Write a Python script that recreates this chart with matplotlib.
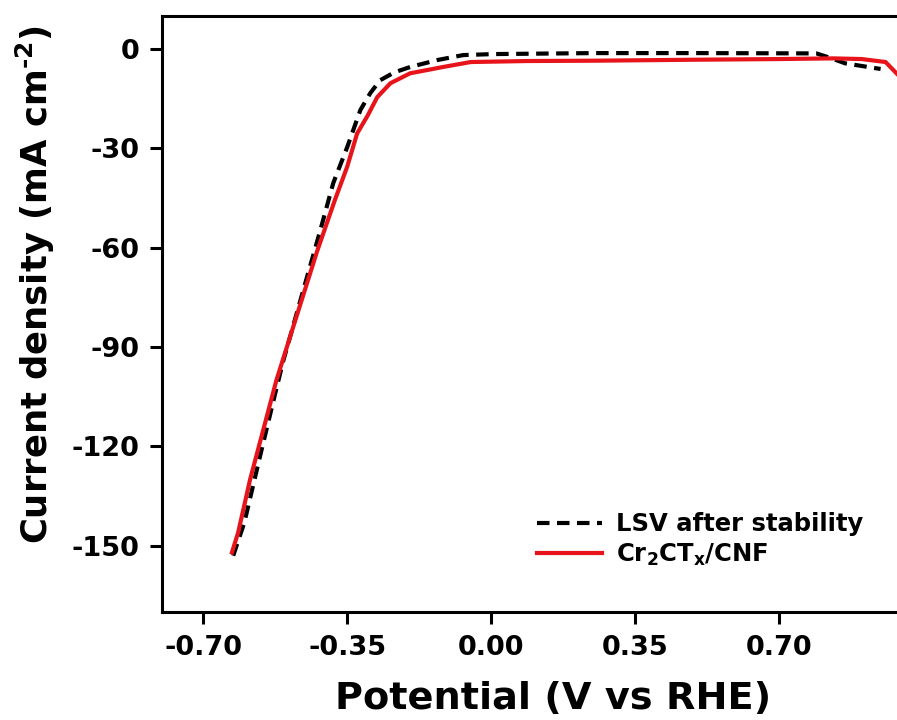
import matplotlib
matplotlib.use("Agg")
import matplotlib.pyplot as plt

plt.rcParams['font.family'] = ['DejaVu Sans']
plt.rcParams['font.weight'] = 'bold'
plt.rcParams['mathtext.fontset'] = 'custom'
plt.rcParams['mathtext.bf'] = 'DejaVu Sans:bold'
plt.rcParams['mathtext.rm'] = 'DejaVu Sans:bold'
plt.rcParams['mathtext.default'] = 'bf'
plt.rcParams['axes.unicode_minus'] = False

# LSV of Cr2CTx/CNF, fresh and after the stability run
pot_fresh = [-0.630, -0.615, -0.586, -0.554, -0.522, -0.484, -0.423, -0.380,
             -0.350, -0.326, -0.300, -0.277, -0.245, -0.197, -0.117, -0.050,
             0.087, 0.250, 0.500, 0.700, 0.830, 0.900, 0.958, 0.990]
cur_fresh = [-152, -146, -130, -115, -100, -85, -61, -45.6,
             -35.5, -25.5, -20, -14.5, -10.3, -7.3, -5.4, -3.9,
             -3.6, -3.5, -3.2, -3.0, -2.8, -3.0, -3.9, -8.0]

pot_after = [-0.627, -0.600, -0.560, -0.525, -0.505, -0.464, -0.416, -0.384,
             -0.350, -0.318, -0.294, -0.270, -0.235, -0.197, -0.131, -0.068,
             0.005, 0.250, 0.500, 0.790, 0.820, 0.860, 0.946]
cur_after = [-153, -143, -122, -104, -94, -76, -55, -40.5,
             -29.6, -18.4, -13.3, -9.4, -7.0, -5.4, -3.3, -1.8,
             -1.5, -1.2, -1.2, -1.3, -2.5, -4.3, -6.0]

xticks = [-0.70, -0.35, 0.00, 0.35, 0.70]
yticks = [0, -30, -60, -90, -120, -150]

fig = plt.figure(figsize=(8.97, 7.2), dpi=100)
ax = fig.add_axes([162 / 897, 108 / 720, 782 / 897, 596 / 720])

ax.plot(pot_after, cur_after, color='black', lw=3.0, linestyle=(0, (3.0, 1.8)),
        label='LSV after stability')
ax.plot(pot_fresh, cur_fresh, color='#e8141b', lw=3.0, label='Cr$_2$CT$_x$/CNF')

ax.set_xlim(-0.8, 1.1)
ax.set_ylim(-170, 10)
ax.set_xticks(xticks)
ax.set_xticklabels(['%.2f' % t for t in xticks])
ax.set_yticks(yticks)

for side in ['left', 'bottom', 'top', 'right']:
    ax.spines[side].set_linewidth(2.2)
ax.tick_params(direction='out', length=8.5, width=2.2, labelsize=19.5, pad=8)

ax.set_xlabel('Potential (V vs RHE)', fontsize=27.5, fontweight='bold')
ax.set_ylabel(r'Current density (mA cm$^{\text{-2}}$)', fontsize=25.5, fontweight='bold')
ax.yaxis.set_label_coords(-0.134, 0.55)
ax.xaxis.set_label_coords(0.5, -0.116)

leg = ax.legend(loc='lower left', bbox_to_anchor=(0.48, 0.074), frameon=False,
                fontsize=17.5, handlelength=2.65, handletextpad=0.6, labelspacing=0.22,
                borderpad=0, borderaxespad=0)

fig.savefig('out.png', dpi=100, facecolor='white')
